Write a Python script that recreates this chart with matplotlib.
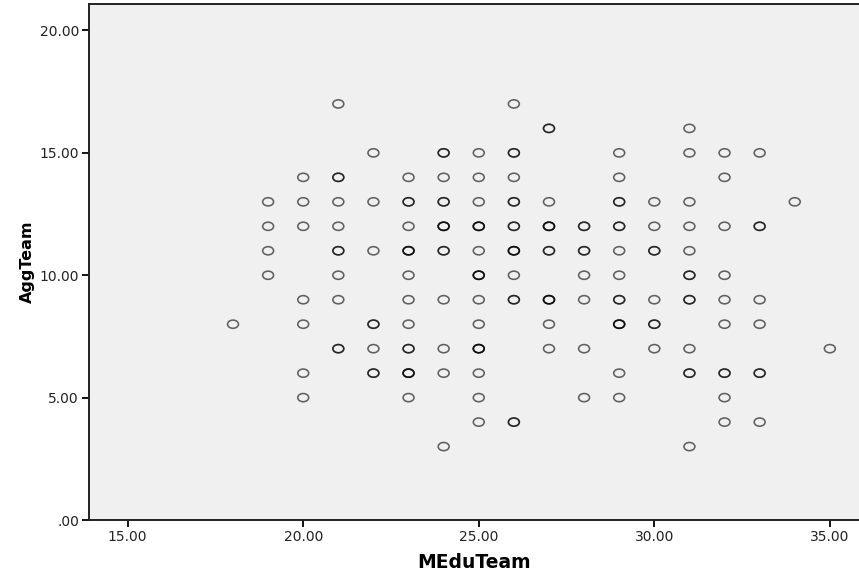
import numpy as np
import matplotlib
matplotlib.use("Agg")
import matplotlib.pyplot as plt
from matplotlib.path import Path

# MEduTeam (x), AggTeam (y), and how many cases sit on the same spot
medu = [18,
        19, 19, 19, 19,
        20, 20, 20, 20, 20, 20, 20,
        21, 21, 21, 21, 21, 21, 21, 21,
        22, 22, 22, 22, 22, 22,
        23, 23, 23, 23, 23, 23, 23, 23, 23, 23,
        24, 24, 24, 24, 24, 24, 24, 24, 24,
        25, 25, 25, 25, 25, 25, 25, 25, 25, 25, 25, 25,
        26, 26, 26, 26, 26, 26, 26, 26, 26,
        27, 27, 27, 27, 27, 27, 27,
        28, 28, 28, 28, 28, 28,
        29, 29, 29, 29, 29, 29, 29, 29, 29, 29,
        30, 30, 30, 30, 30, 30,
        31, 31, 31, 31, 31, 31, 31, 31, 31, 31,
        32, 32, 32, 32, 32, 32, 32, 32, 32,
        33, 33, 33, 33, 33, 33,
        34,
        35]
agg = [8,
       13, 12, 11, 10,
       14, 13, 12, 9, 8, 6, 5,
       17, 14, 13, 12, 11, 10, 9, 7,
       15, 13, 11, 8, 7, 6,
       14, 13, 12, 11, 10, 9, 8, 7, 6, 5,
       15, 14, 13, 12, 11, 9, 7, 6, 3,
       15, 14, 13, 12, 11, 10, 9, 8, 7, 6, 5, 4,
       17, 15, 14, 13, 12, 11, 10, 9, 4,
       16, 13, 12, 11, 9, 8, 7,
       12, 11, 10, 9, 7, 5,
       15, 14, 13, 12, 11, 10, 9, 8, 6, 5,
       13, 12, 11, 9, 8, 7,
       16, 15, 13, 12, 11, 10, 9, 7, 6, 3,
       15, 14, 12, 10, 9, 8, 6, 5, 4,
       15, 12, 9, 8, 6, 4,
       13,
       7]
count = [1,
         1, 1, 1, 1,
         1, 1, 1, 1, 1, 1, 1,
         1, 2, 1, 1, 2, 1, 1, 2,
         1, 1, 1, 2, 1, 2,
         1, 2, 1, 3, 1, 1, 1, 2, 3, 1,
         2, 1, 2, 3, 2, 1, 1, 1, 1,
         1, 1, 1, 3, 1, 3, 1, 1, 3, 1, 1, 1,
         1, 2, 1, 2, 2, 3, 1, 2, 2,
         2, 1, 3, 2, 3, 1, 1,
         2, 2, 1, 1, 1, 1,
         1, 1, 2, 2, 1, 1, 2, 3, 1, 1,
         1, 1, 2, 1, 2, 1,
         1, 1, 1, 1, 1, 2, 2, 1, 2, 1,
         1, 1, 1, 1, 1, 1, 2, 1, 1,
         1, 2, 1, 1, 2, 1,
         1,
         1]

x = np.repeat(medu, count)
y = np.repeat(agg, count)

# slightly flattened open circle, like the SPSS output
circ = Path.unit_circle()
oval = Path(circ.vertices * np.array([1.0, 0.75]), circ.codes)

fig = plt.figure(figsize=(8.59, 5.79), dpi=100)
ax = fig.add_axes([88.7 / 859, 59 / 579, 1 - 88.7 / 859, (520 - 4.3) / 579])
ax.set_facecolor('#f0f0f0')

ax.scatter(x, y, marker=oval, s=62, facecolors='none',
           edgecolors=(0, 0, 0, 0.6), linewidths=1.15)

ax.set_xlim(13.89, 35.83)
ax.set_ylim(0, 21.07)
ax.set_xticks([15, 20, 25, 30, 35])
ax.set_yticks([0, 5, 10, 15, 20])
ax.set_xticklabels(['15.00', '20.00', '25.00', '30.00', '35.00'])
ax.set_yticklabels(['.00', '5.00', '10.00', '15.00', '20.00'])
ax.tick_params(direction='out', length=5, width=1.3, labelsize=10,
               labelcolor='#222222', pad=2)

for side in ['left', 'bottom', 'top']:
    ax.spines[side].set_linewidth(1.4)
    ax.spines[side].set_color('#222222')
ax.spines['right'].set_visible(False)

ax.set_xlabel('MEduTeam', fontsize=13.5, fontweight='bold', labelpad=7)
ax.set_ylabel('AggTeam', fontsize=11.5, fontweight='bold', labelpad=3)

fig.savefig('out.png', dpi=100)
